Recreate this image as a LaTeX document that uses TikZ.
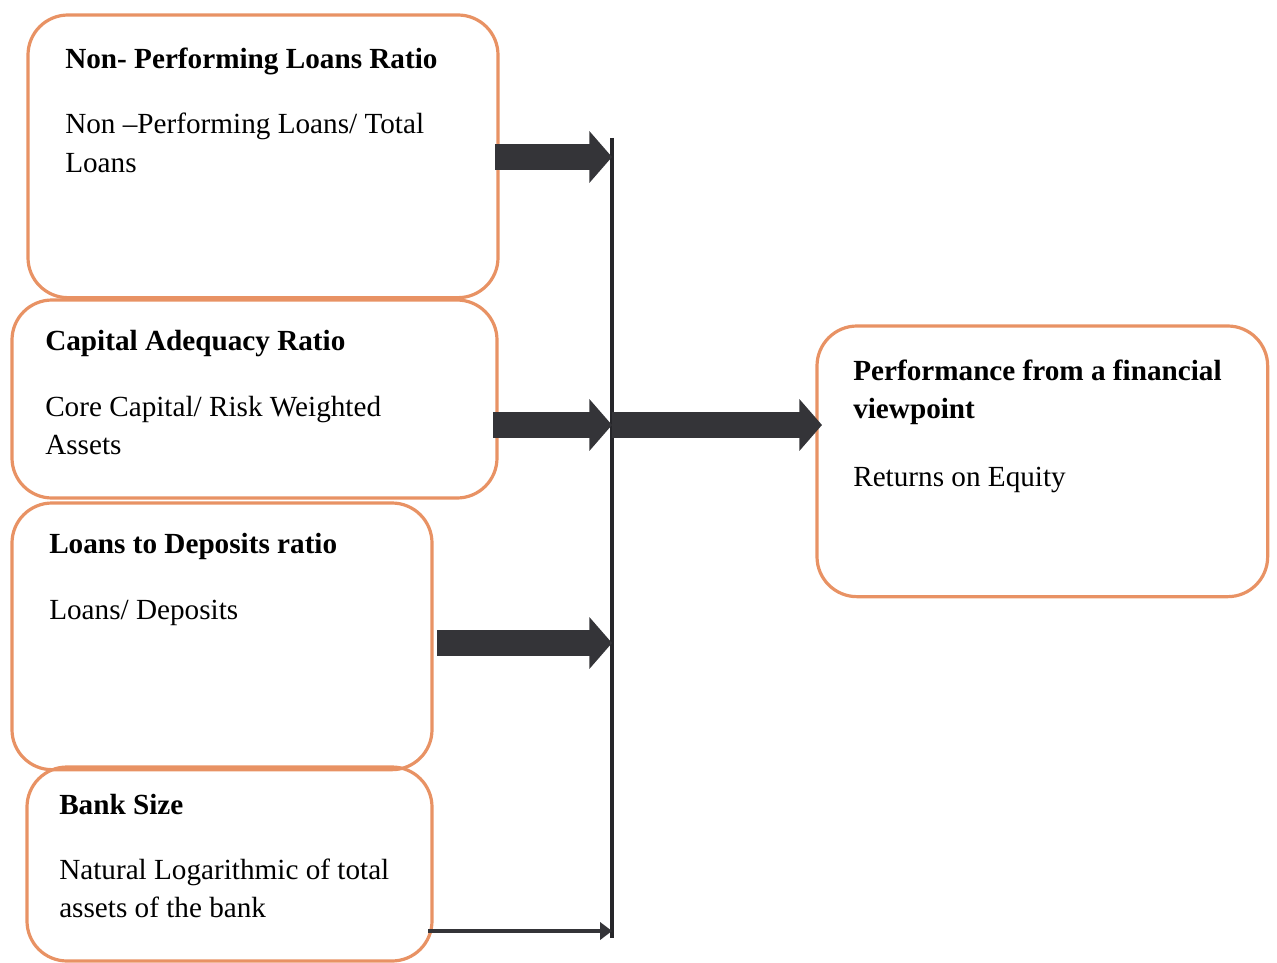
\documentclass[tikz,border=0pt]{standalone}
\usepackage{fontspec}
\setmainfont{Liberation Serif}
\usetikzlibrary{arrows.meta}
\definecolor{boxline}{RGB}{232,146,100}
\definecolor{arrowcol}{RGB}{52,52,56}
\definecolor{barcol}{RGB}{38,38,42}
\tikzset{
  box/.style={draw=boxline, line width=2.4pt, rounded corners=30pt, anchor=north west, inner sep=0pt, outer sep=0pt},
  ttl/.style={anchor=base west, inner sep=0pt, font=\fontsize{21.9}{28.5}\selectfont\bfseries},
  body/.style={anchor=base west, inner sep=0pt, align=left, font=\fontsize{21.9}{28.5}\selectfont},
  blockarrow/.style={draw=arrowcol, line width=19pt, -{Triangle[width=38pt,length=17pt]}},
  thinarrow/.style={draw=arrowcol, line width=3pt, -{Triangle[width=13pt,length=9pt]}},
}
\begin{document}
\begin{tikzpicture}[x=0.75pt,y=-0.75pt]
\useasboundingbox (0,0) rectangle (1277,963);
% boxes
\node[box, minimum width=352.5pt, minimum height=212pt] (b1) at (28,15) {};
\node[box, minimum width=363.75pt, minimum height=148.5pt] (b2) at (12,300) {};
\node[box, minimum width=315pt, minimum height=200pt] (b3) at (12,503) {};
\node[box, minimum width=303.75pt, minimum height=145.5pt] (b4) at (27,767) {};
\node[box, minimum width=338pt, minimum height=203pt] (b5) at (817,326) {};
% texts (multi-line nodes are anchored at the baseline of their last line)
\node[ttl] (t1) at (65,69) {Non- Performing Loans Ratio};
\node[body] (d1) at (65,172) {Non --Performing Loans/ Total\\Loans};
\node[ttl] (t2) at (45,350) {Capital Adequacy Ratio};
\node[body] (d2) at (45,454) {Core Capital/ Risk Weighted\\Assets};
\node[ttl] (t3) at (49,553) {Loans to Deposits ratio};
\node[body] (d3) at (49,619) {Loans/ Deposits};
\node[ttl] (t4) at (59,814) {Bank Size};
\node[body] (d4) at (59,917) {Natural Logarithmic of total\\assets of the bank};
\node[body, font=\fontsize{21.9}{28.5}\selectfont\bfseries] (t5) at (853,418) {Performance from a financial\\viewpoint};
\node[body] (d5) at (853,486) {Returns on Equity};
% vertical bar
\coordinate (vtop) at (612,138);
\coordinate (vbot) at (612,938);
\draw[barcol, line width=3pt] (vtop) -- (vbot);
\coordinate (v1) at (612,157);
\coordinate (v2) at (612,425);
\coordinate (v3) at (612,643);
\coordinate (v4) at (612,931);
\coordinate (e5) at (822,425);
\draw[blockarrow] (495,157) -- (v1);
\draw[blockarrow] (493,425) -- (v2);
\draw[blockarrow] (437,643) -- (v3);
\draw[thinarrow] (428,931) -- (v4);
\draw[blockarrow] (v2) -- (e5);
\end{tikzpicture}
\end{document}
